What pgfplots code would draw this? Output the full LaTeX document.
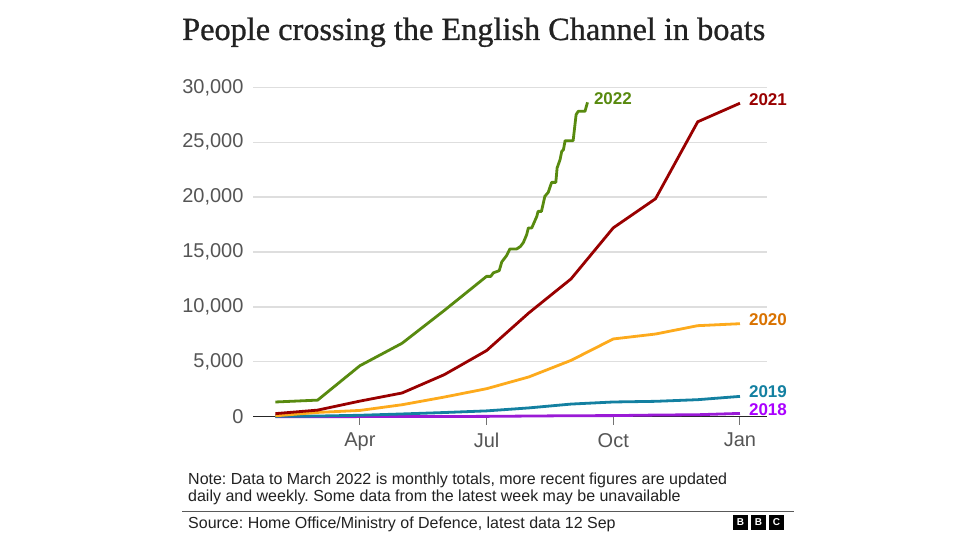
\documentclass[border=0pt]{standalone}
\usepackage{pgfplots}
\pgfplotsset{compat=1.18}
\usepackage{fontspec}
\setmainfont{Liberation Sans}
\newfontfamily\titlefont[FakeBold=0.8]{Liberation Serif}
\definecolor{c22}{HTML}{588A0F}
\definecolor{c21}{HTML}{990000}
\definecolor{c20}{HTML}{FDAA1C}
\definecolor{c20t}{HTML}{D97200}
\definecolor{c19}{HTML}{1380A1}
\definecolor{c18}{HTML}{9A1AD6}
\definecolor{c18t}{HTML}{AA00FF}
\definecolor{txt}{HTML}{222222}
\definecolor{tick}{HTML}{555555}
\frenchspacing
\begin{document}
\begin{tikzpicture}[x=1pt,y=1pt]
\path[use as bounding box, fill=white] (0,0) rectangle (976,549);
\node[anchor=base west, inner sep=0, font=\titlefont\fontsize{32.3}{36}\selectfont, text=txt] at (182,509) {People crossing the English Channel in boats};
\begin{axis}[
  at={(253pt,132.3pt)}, anchor=south west,
  scale only axis, width=514pt, height=329.4pt,
  xmin=0.47, xmax=12.64, ymin=0, ymax=30000,
  clip=false,
  axis x line*=bottom, axis y line*=left,
  x axis line style={draw=black!85, line width=1.5pt},
  y axis line style={draw=none},
  xtick={3,6,9,12}, xticklabels={Apr,Jul,Oct,Jan},
  ytick={0,5000,10000,15000,20000,25000,30000},
  ymajorgrids, grid style={draw=black!13, line width=1.2pt},
  tick align=outside, major tick length=8pt,
  xtick style={draw=black!55, line width=1pt},
  ytick style={draw=none},
  tick label style={font=\fontsize{20}{24}\selectfont, text=tick},
  yticklabel style={xshift=2pt},
  xticklabel style={yshift=-5pt},
  scaled y ticks=false,
  /pgf/number format/.cd, 1000 sep={,}, assume math mode=true,
]
\addplot[c18, line width=2.8pt] coordinates {(1,0)(2,0)(3,10)(4,20)(5,20)(6,30)(7,60)(8,90)(9,100)(10,150)(11,180)(12,300)};
\addplot[c19, line width=2.8pt] coordinates {(1,30)(2,60)(3,130)(4,250)(5,380)(6,530)(7,800)(8,1150)(9,1340)(10,1400)(11,1550)(12,1850)};
\addplot[c20, line width=2.8pt] coordinates {(1,80)(2,390)(3,570)(4,1090)(5,1790)(6,2550)(7,3620)(8,5130)(9,7080)(10,7530)(11,8290)(12,8470)};
\addplot[c21, line width=2.8pt] coordinates {(1,280)(2,600)(3,1420)(4,2160)(5,3830)(6,6020)(7,9450)(8,12550)(9,17200)(10,19850)(11,26860)(12,28550)};
\addplot[c22, line width=2.8pt, line join=round] coordinates {(1,1340)(2,1510)(3,4640)(4,6690)(5,9680)(6,12780)(6.10,12780)(6.16,13100)(6.30,13300)(6.36,14100)(6.47,14650)(6.55,15270)(6.71,15270)(6.80,15500)(6.87,15850)(6.95,16580)(6.99,17190)(7.07,17190)(7.19,18250)(7.22,18700)(7.30,18700)(7.38,20070)(7.46,20430)(7.54,21340)(7.64,21340)(7.67,22650)(7.74,23410)(7.78,24160)(7.82,24320)(7.86,25140)(8.05,25140)(8.12,27510)(8.17,27810)(8.33,27810)(8.39,28630)};
\node[anchor=west, inner sep=0, text=c22, font=\bfseries\fontsize{17}{20}\selectfont] at (axis cs:8.54,28935) {2022};
\node[anchor=west, inner sep=0, text=c21, font=\bfseries\fontsize{17}{20}\selectfont] at (axis cs:12.21,28840) {2021};
\node[anchor=west, inner sep=0, text=c20t, font=\bfseries\fontsize{17}{20}\selectfont] at (axis cs:12.21,8810) {2020};
\node[anchor=west, inner sep=0, text=c19, font=\bfseries\fontsize{17}{20}\selectfont] at (axis cs:12.21,2250) {2019};
\node[anchor=west, inner sep=0, text=c18t, font=\bfseries\fontsize{17}{20}\selectfont] at (axis cs:12.21,610) {2018};
\end{axis}
\node[anchor=base west, inner sep=0, text=txt, font=\fontsize{16}{19}\selectfont] at (188,65) {Note: Data to March 2022 is monthly totals, more recent figures are updated};
\node[anchor=base west, inner sep=0, text=txt, font=\fontsize{16}{19}\selectfont] at (188,48) {daily and weekly. Some data from the latest week may be unavailable};
\draw[black!65, line width=1pt] (182,38) -- (794,38);
\node[anchor=base west, inner sep=0, text=txt, font=\fontsize{16}{19}\selectfont] at (188,21) {Source: Home Office/Ministry of Defence, latest data 12 Sep};
\foreach \i/\l in {0/B,1/B,2/C}{
  \fill[black] (733+18*\i,19) rectangle +(15,15);
  \node[text=white, font=\bfseries\fontsize{10}{12}\selectfont, inner sep=0] at (740.5+18*\i,26.5) {\l};
}
\end{tikzpicture}
\end{document}
